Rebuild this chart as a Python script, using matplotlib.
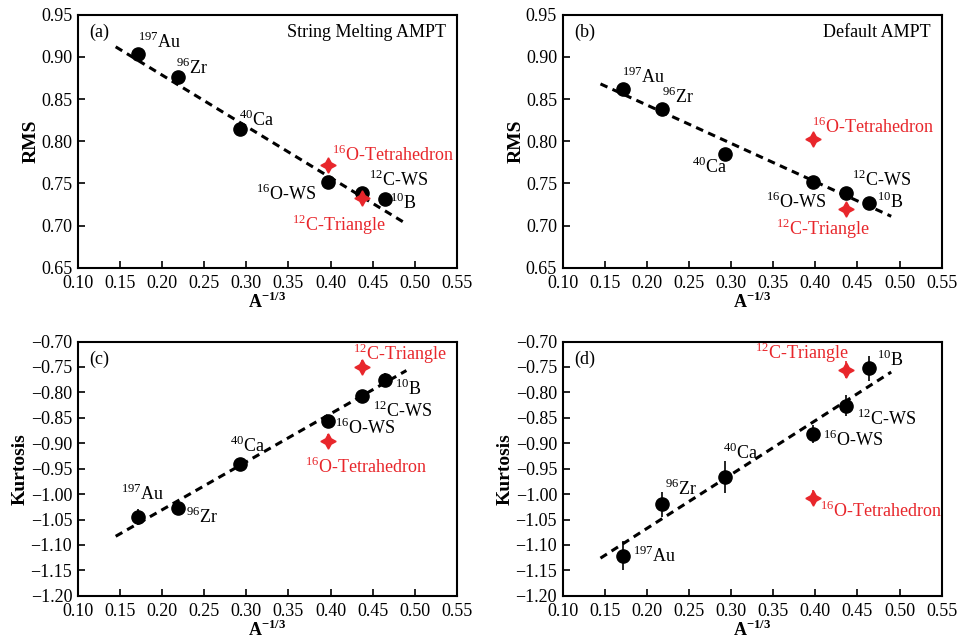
import matplotlib.pyplot as plt
import numpy as np

plt.rcParams["font.family"] = ["Liberation Serif", "DejaVu Serif"]
plt.rcParams["mathtext.fontset"] = "custom"
plt.rcParams["mathtext.rm"] = "Liberation Serif"
plt.rcParams["mathtext.bf"] = "Liberation Serif:bold"
plt.rcParams["font.size"] = 13

# A^(-1/3) for Au, Zr, Ca, O, C, B
nuclei = ["$^{197}$Au", "$^{96}$Zr", "$^{40}$Ca", "$^{16}$O-WS", "$^{12}$C-WS", "$^{10}$B"]
x_ws = [0.1719, 0.2184, 0.2924, 0.3969, 0.4368, 0.4642]
red_names = ["$^{16}$O-Tetrahedron", "$^{12}$C-Triangle"]
x_red = [0.3969, 0.4368]

rms_sm = [0.903, 0.876, 0.815, 0.752, 0.739, 0.731]
rms_sm_red = [0.772, 0.733]
rms_def = [0.862, 0.838, 0.785, 0.752, 0.739, 0.727]
rms_def_red = [0.803, 0.720]

kurt_sm = [-1.045, -1.027, -0.941, -0.857, -0.808, -0.775]
kurt_sm_err = [0.016, 0.013, 0.010, 0.010, 0.010, 0.013]
kurt_sm_red = [-0.895, -0.750]
kurt_sm_red_err = [0.013, 0.013]
kurt_def = [-1.121, -1.020, -0.966, -0.882, -0.826, -0.753]
kurt_def_err = [0.028, 0.025, 0.031, 0.018, 0.020, 0.025]
kurt_def_red = [-1.007, -0.755]
kurt_def_red_err = [0.015, 0.017]

fit_x = [0.145, 0.490]
fit_rms_sm = [0.912, 0.702]
fit_rms_def = [0.868, 0.711]
fit_kurt_sm = [-1.083, -0.757]
fit_kurt_def = [-1.126, -0.760]

# label positions (data coords), black then red
lab_a = [(0.171, 0.918), (0.216, 0.887), (0.291, 0.825), (0.311, 0.737), (0.4455, 0.754), (0.470, 0.727)]
lab_a_red = [(0.4016, 0.784), (0.354, 0.701)]
lab_b = [(0.170, 0.876), (0.2176, 0.852), (0.254, 0.770), (0.342, 0.728), (0.444, 0.754), (0.473, 0.728)]
lab_b_red = [(0.396, 0.817), (0.353, 0.696)]
lab_c = [(0.151, -0.999), (0.229, -1.045), (0.2805, -0.905), (0.405, -0.869), (0.450, -0.836), (0.476, -0.794)]
lab_c_red = [(0.3695, -0.946), (0.4265, -0.724)]
lab_d = [(0.183, -1.121), (0.221, -0.989), (0.290, -0.920), (0.409, -0.893), (0.449, -0.853), (0.473, -0.737)]
lab_d_red = [(0.405, -1.033), (0.328, -0.722)]

red = "#e8262b"
star = (4, 1, 0)

fig = plt.figure(figsize=(9.6, 6.42), dpi=100)
pos = [[0.081, 0.583, 0.395, 0.394], [0.586, 0.583, 0.395, 0.394],
       [0.081, 0.072, 0.395, 0.396], [0.586, 0.072, 0.395, 0.396]]

panels = [
    ("(a)", "String Melting AMPT", rms_sm, None, rms_sm_red, None, fit_rms_sm, lab_a, lab_a_red, "RMS"),
    ("(b)", "Default AMPT", rms_def, None, rms_def_red, None, fit_rms_def, lab_b, lab_b_red, "RMS"),
    ("(c)", "", kurt_sm, kurt_sm_err, kurt_sm_red, kurt_sm_red_err, fit_kurt_sm, lab_c, lab_c_red, "Kurtosis"),
    ("(d)", "", kurt_def, kurt_def_err, kurt_def_red, kurt_def_red_err, fit_kurt_def, lab_d, lab_d_red, "Kurtosis"),
]

fmt = plt.FuncFormatter(lambda v, _: f"{v:.2f}".replace("-", "\u2212"))

for p, (tag, title, y, yerr, yr, yrerr, fit, labs, labs_r, ylab) in zip(pos, panels):
    ax = fig.add_axes(p)
    ax.plot(fit_x, fit, ls=(0, (2.5, 1.8)), color="black", lw=2.2, zorder=2)
    ax.errorbar(x_ws, y, yerr=yerr, fmt="o", color="black", ms=9.5, elinewidth=1.2, capsize=0, zorder=3)
    ax.errorbar(x_red, yr, yerr=yrerr, fmt="none", ecolor=red, elinewidth=1.2, capsize=0, zorder=3)
    ax.plot(x_red, yr, ls="none", marker=star, color=red, ms=11, zorder=4)
    for name, (lx, ly) in zip(nuclei, labs):
        ax.text(lx, ly, name, ha="left", va="center", fontsize=13, color="black")
    for name, (lx, ly) in zip(red_names, labs_r):
        ax.text(lx, ly, name, ha="left", va="center", fontsize=13, color=red)
    ax.set_xlim(0.10, 0.55)
    ax.set_xticks(np.arange(0.10, 0.551, 0.05))
    ax.xaxis.set_major_formatter(fmt)
    ax.yaxis.set_major_formatter(fmt)
    if ylab == "RMS":
        ax.set_ylim(0.65, 0.95)
        ax.set_yticks(np.arange(0.65, 0.951, 0.05))
    else:
        ax.set_ylim(-1.20, -0.70)
        ax.set_yticks(np.arange(-1.20, -0.699, 0.05))
    ax.tick_params(direction="in", length=5, width=1.2, labelsize=13)
    ax.tick_params(axis="x", pad=5)
    ax.tick_params(axis="y", pad=4)
    ax.set_xlabel("A$^{\\mathbf{-1/3}}$", fontweight="bold", fontsize=13, labelpad=0)
    ax.set_ylabel(ylab, fontweight="bold", fontsize=14, labelpad=1)
    ax.text(0.03, 0.93, tag, transform=ax.transAxes, ha="left", va="center", fontsize=13)
    if title:
        ax.text(0.97, 0.93, title, transform=ax.transAxes, ha="right", va="center", fontsize=13)
    for s in ax.spines.values():
        s.set_linewidth(1.5)

fig.savefig("out.png", dpi=100)
